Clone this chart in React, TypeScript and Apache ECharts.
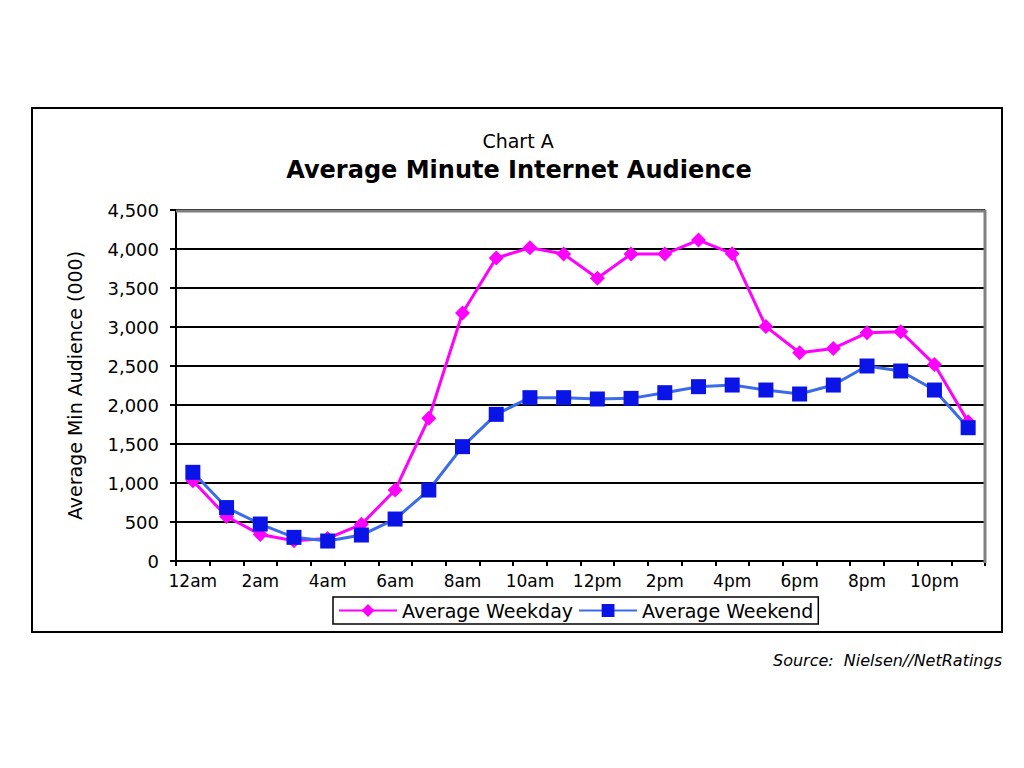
import React, { useEffect, useRef } from "react";
import * as echarts from "echarts";

const hours = [
  "12am", "1am", "2am", "3am", "4am", "5am", "6am", "7am", "8am", "9am", "10am", "11am",
  "12pm", "1pm", "2pm", "3pm", "4pm", "5pm", "6pm", "7pm", "8pm", "9pm", "10pm", "11pm",
];
const weekday = [
  1030, 570, 340, 260, 290, 470, 910, 1830, 3180, 3885, 4015, 3935,
  3625, 3935, 3935, 4115, 3940, 3005, 2670, 2725, 2925, 2940, 2520, 1785,
];
const weekend = [
  1137, 685, 474, 303, 256, 333, 538, 910, 1466, 1880, 2094, 2094,
  2077, 2085, 2158, 2235, 2256, 2192, 2141, 2256, 2500, 2436, 2192, 1709,
];
const yTicks = { min: 0, max: 4500, interval: 500 };

const FONT = "'DejaVu Sans', 'Liberation Sans', Arial, sans-serif";

export default function App() {
  const ref = useRef<HTMLDivElement>(null);
  useEffect(() => {
    if (!ref.current) return;
    const chart = echarts.init(ref.current, null, { renderer: "svg" });
    chart.setOption({
      animation: false,
      backgroundColor: "#ffffff",
      textStyle: { fontFamily: FONT },
      graphic: [
        {
          type: "rect",
          shape: { x: 32, y: 108, width: 970, height: 524 },
          style: { fill: "none", stroke: "#000", lineWidth: 2 },
          z: 0,
        },
        {
          type: "text",
          x: 518,
          y: 141,
          style: {
            text: "Chart A",
            font: `19px ${FONT}`,
            fill: "#000",
            textAlign: "center",
            textVerticalAlign: "middle",
          },
        },
        {
          type: "text",
          x: 519,
          y: 170,
          style: {
            text: "Average Minute Internet Audience",
            font: `bold 24px ${FONT}`,
            fill: "#000",
            textAlign: "center",
            textVerticalAlign: "middle",
          },
        },
        {
          type: "text",
          x: 1002,
          y: 660,
          style: {
            text: "Source:  Nielsen//NetRatings",
            font: `italic 16px ${FONT}`,
            fill: "#000",
            textAlign: "right",
            textVerticalAlign: "middle",
          },
        },
        {
          type: "line",
          shape: { x1: 176, y1: 211, x2: 986, y2: 211 },
          style: { stroke: "#808080", lineWidth: 3 },
          z: 1,
        },
        {
          type: "line",
          shape: { x1: 985, y1: 210, x2: 985, y2: 563 },
          style: { stroke: "#808080", lineWidth: 3 },
          z: 1,
        },
      ],
      grid: { left: 176, right: 39, top: 210, bottom: 207, containLabel: false },
      legend: {
        left: 333,
        top: 597,
        itemWidth: 58,
        itemHeight: 16,
        itemGap: 5,
        padding: [4, 5, 4, 5],
        borderColor: "#000",
        borderWidth: 1.5,
        borderRadius: 0,
        textStyle: { fontSize: 19, color: "#000", fontFamily: FONT },
        data: ["Average Weekday", "Average Weekend"],
      },
      xAxis: {
        type: "category",
        data: hours,
        boundaryGap: true,
        axisLine: { lineStyle: { color: "#000", width: 2 } },
        axisTick: { show: true, interval: 0, length: 5, lineStyle: { color: "#000", width: 2 } },
        axisLabel: { interval: 1, color: "#000", fontSize: 17, margin: 11, fontFamily: FONT },
        splitLine: { show: false },
      },
      yAxis: {
        type: "value",
        min: yTicks.min,
        max: yTicks.max,
        interval: yTicks.interval,
        name: "Average Min Audience (000)",
        nameLocation: "middle",
        nameGap: 92,
        nameTextStyle: { fontSize: 19, color: "#000", fontFamily: FONT },
        axisLine: { show: true, lineStyle: { color: "#000", width: 2 } },
        axisTick: { show: true, length: 6, lineStyle: { color: "#000", width: 2 } },
        axisLabel: {
          color: "#000",
          fontSize: 18,
          margin: 17,
          fontFamily: FONT,
          formatter: (v: number) => v.toLocaleString("en-US"),
        },
        splitLine: { show: true, lineStyle: { color: "#000", width: 2 } },
      },
      series: [
        {
          name: "Average Weekday",
          type: "line",
          data: weekday,
          symbol: "diamond",
          symbolSize: 15,
          lineStyle: { color: "#ff00ff", width: 3 },
          itemStyle: { color: "#ff00ff" },
          z: 3,
        },
        {
          name: "Average Weekend",
          type: "line",
          data: weekend,
          symbol: "rect",
          symbolSize: 15,
          lineStyle: { color: "#3b6be8", width: 3 },
          itemStyle: { color: "#0a14e6" },
          z: 4,
        },
      ],
    });
    return () => chart.dispose();
  }, []);
  return (
    <div
      ref={ref}
      style={{ position: "fixed", left: 0, top: 0, width: 1024, height: 768 }}
    />
  );
}
